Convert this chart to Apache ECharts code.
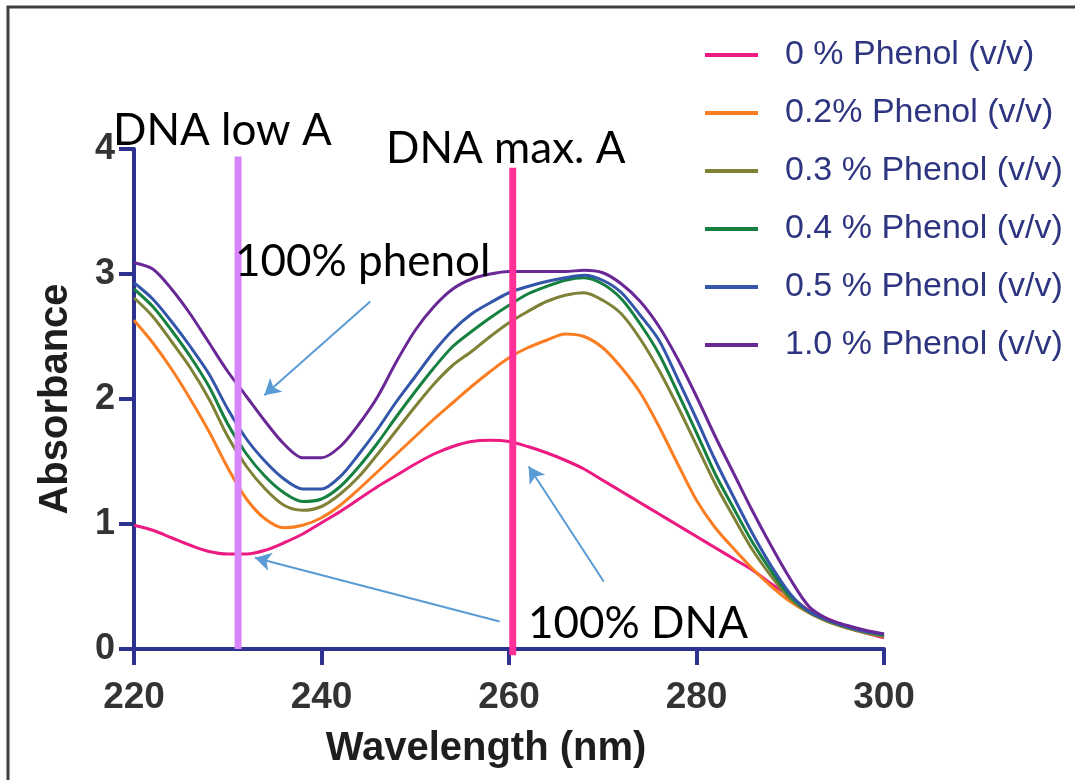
<!DOCTYPE html>
<html>
<head>
<meta charset="utf-8">
<script src="https://cdn.jsdelivr.net/npm/echarts@6/dist/echarts.min.js"></script>
<style>
html, body { margin: 0; padding: 0; background: #fff; }
#main { width: 1075px; height: 780px; }
</style>
</head>
<body>
<div id="main"></div>
<script>
// wavelengths (nm)
var wavelength = [220, 222, 224, 226, 228, 230, 232, 234, 236, 238,
                  240, 242, 244, 246, 248, 250, 252, 254, 256, 258,
                  260, 262, 264, 266, 268, 270, 272, 274, 276, 278,
                  280, 282, 284, 286, 288, 290, 292, 294, 296, 298, 300];

// absorbance per phenol concentration
var phenol0 = [0.99, 0.95, 0.89, 0.83, 0.78, 0.76, 0.76, 0.79, 0.85, 0.92,
               1.01, 1.10, 1.20, 1.30, 1.39, 1.48, 1.56, 1.62, 1.66, 1.67,
               1.66, 1.62, 1.57, 1.51, 1.44, 1.35, 1.26, 1.17, 1.08, 0.99,
               0.90, 0.81, 0.72, 0.63, 0.52, 0.42, 0.31, 0.24, 0.18, 0.13, 0.09];
var phenol02 = [2.63, 2.45, 2.24, 2.00, 1.74, 1.45, 1.20, 1.04, 0.97, 0.99,
                1.05, 1.15, 1.28, 1.42, 1.56, 1.70, 1.84, 1.97, 2.10, 2.22,
                2.33, 2.41, 2.47, 2.52, 2.50, 2.41, 2.25, 2.05, 1.78, 1.48,
                1.19, 0.97, 0.80, 0.64, 0.50, 0.38, 0.29, 0.22, 0.17, 0.13, 0.10];
var phenol03 = [2.81, 2.66, 2.46, 2.25, 2.00, 1.70, 1.46, 1.28, 1.15, 1.11,
                1.14, 1.24, 1.38, 1.56, 1.75, 1.94, 2.12, 2.27, 2.38, 2.50,
                2.61, 2.70, 2.78, 2.83, 2.85, 2.79, 2.68, 2.48, 2.23, 1.94,
                1.63, 1.32, 1.05, 0.79, 0.58, 0.40, 0.29, 0.22, 0.17, 0.13, 0.10];
var phenol04 = [2.88, 2.74, 2.55, 2.34, 2.10, 1.80, 1.56, 1.38, 1.25, 1.18,
                1.20, 1.30, 1.46, 1.65, 1.86, 2.06, 2.25, 2.42, 2.54, 2.65,
                2.75, 2.84, 2.90, 2.95, 2.97, 2.92, 2.80, 2.60, 2.36, 2.05,
                1.73, 1.40, 1.12, 0.85, 0.62, 0.42, 0.30, 0.23, 0.18, 0.14, 0.11];
var phenol05 = [2.93, 2.80, 2.62, 2.42, 2.20, 1.92, 1.68, 1.50, 1.36, 1.28,
                1.28, 1.38, 1.56, 1.76, 1.98, 2.18, 2.38, 2.55, 2.68, 2.77,
                2.85, 2.90, 2.94, 2.97, 2.99, 2.95, 2.85, 2.67, 2.47, 2.16,
                1.84, 1.51, 1.21, 0.92, 0.66, 0.44, 0.30, 0.23, 0.18, 0.14, 0.12];
var phenol10 = [3.09, 3.04, 2.88, 2.68, 2.45, 2.22, 2.02, 1.82, 1.64, 1.53,
                1.53, 1.62, 1.80, 2.02, 2.30, 2.55, 2.74, 2.88, 2.96, 3.00,
                3.02, 3.02, 3.02, 3.02, 3.03, 3.01, 2.92, 2.78, 2.58, 2.32,
                2.02, 1.70, 1.40, 1.10, 0.82, 0.56, 0.34, 0.24, 0.19, 0.15, 0.12];

var seriesNames = ['0 % Phenol (v/v)', '0.2% Phenol (v/v)', '0.3 % Phenol (v/v)',
                   '0.4 % Phenol (v/v)', '0.5 % Phenol (v/v)', '1.0 % Phenol (v/v)'];
var seriesData = [phenol0, phenol02, phenol03, phenol04, phenol05, phenol10];
var seriesColors = ['#ec1a82', '#fb7d22', '#7f8236', '#168040', '#3355aa', '#6a2896'];

var xTicks = [220, 240, 260, 280, 300];
var yTicks = [0, 1, 2, 3, 4];

// reference wavelengths drawn as vertical bars: [nm, bottom, top]
var lowA = [231.1, 0, 3.94];
var maxA = [260.4, -0.05, 3.85];

// annotation arrows: [from nm, from A, to nm, to A]
var arrows = [
    [245.2, 2.78, 233.9, 2.03],
    [259.0, 0.22, 232.9, 0.73],
    [270.1, 0.54, 262.1, 1.46]
];

function pairs(xs, ys) {
    var out = [];
    for (var i = 0; i < xs.length; i++) {
	out.push([xs[i], ys[i]]);
    }
    return out;
}

var series = [];
for (var i = 0; i < seriesNames.length; i++) {
    series.push({
	name : seriesNames[i],
	type : 'line',
	smooth : 0.3,
	symbol : 'none',
	lineStyle : { width : 3, color : seriesColors[i] },
	itemStyle : { color : seriesColors[i] },
	z : 2 + i,
	data : pairs(wavelength, seriesData[i])
    });
}

// 100% phenol / 100% DNA arrows
series.push({
    type : 'line',
    data : [],
    z : 20,
    markLine : {
	silent : true,
	symbol : [ 'none', 'arrow' ],
	symbolSize : [ 14, 16 ],
	label : { show : false },
	lineStyle : { color : '#5b9bd5', width : 2, type : 'solid' },
	data : arrows.map(function(a) {
	    return [ { coord : [ a[0], a[1] ] }, { coord : [ a[2], a[3] ] } ];
	})
    }
});

series.push({
    type : 'line',
    symbol : 'none',
    clip : false,
    z : 15,
    lineStyle : { width : 7, color : '#d884fb' },
    data : [ [ lowA[0], lowA[1] ], [ lowA[0], lowA[2] ] ]
});
series.push({
    type : 'line',
    symbol : 'none',
    clip : false,
    z : 15,
    lineStyle : { width : 7, color : '#ff3097' },
    data : [ [ maxA[0], maxA[1] ], [ maxA[0], maxA[2] ] ]
});

var axisColor = '#2d3190';
var labelFont = 'Lato, "Open Sans", sans-serif';

var myChart = echarts.init(document.getElementById('main'));
myChart.setOption({
    animation : false,
    backgroundColor : '#ffffff',
    grid : {
	left : 134,
	right : 191,
	top : 149,
	bottom : 131
    },
    legend : {
	orient : 'vertical',
	left : 700,
	top : 33,
	icon : 'rect',
	itemWidth : 53,
	itemHeight : 4,
	itemGap : 24,
	data : seriesNames,
	textStyle : {
	    fontFamily : '"Liberation Sans", Arial, sans-serif',
	    fontSize : 34,
	    lineHeight : 34,
	    color : '#2e3580',
	    padding : [ 0, 0, 0, 22 ]
	}
    },
    xAxis : {
	type : 'value',
	min : 220,
	max : 300,
	interval : 20,
	name : 'Wavelength (nm)',
	nameLocation : 'middle',
	nameGap : 80,
	nameTextStyle : {
	    fontFamily : '"Liberation Sans", Arial, sans-serif',
	    fontWeight : 'bold',
	    fontSize : 40,
	    color : '#1e1e1e',
	    padding : [ 0, 46, 0, 0 ]
	},
	splitLine : { show : false },
	axisLine : { lineStyle : { color : axisColor, width : 4 } },
	axisTick : { inside : false, length : 16, lineStyle : { color : axisColor, width : 4 } },
	axisLabel : {
	    margin : 30,
	    fontFamily : '"Liberation Sans", Arial, sans-serif',
	    fontWeight : 'bold',
	    fontSize : 37,
	    color : '#333333',
	    customValues : xTicks
	}
    },
    yAxis : {
	type : 'value',
	min : 0,
	max : 4,
	interval : 1,
	name : 'Absorbance',
	nameLocation : 'middle',
	nameGap : 58,
	nameTextStyle : {
	    fontFamily : '"Liberation Sans", Arial, sans-serif',
	    fontWeight : 'bold',
	    fontSize : 40,
	    color : '#1e1e1e'
	},
	splitLine : { show : false },
	axisLine : { show : true, lineStyle : { color : axisColor, width : 4 } },
	axisTick : { show : true, inside : false, length : 15, lineStyle : { color : axisColor, width : 4 } },
	axisLabel : {
	    margin : 19,
	    fontFamily : '"Liberation Sans", Arial, sans-serif',
	    fontWeight : 'bold',
	    fontSize : 36,
	    color : '#333333'
	}
    },
    graphic : [ {
	type : 'rect',
	shape : { x : 8, y : 7, width : 1100, height : 800 },
	style : { fill : 'none', stroke : '#3f3f3f', lineWidth : 3 },
	silent : true
    }, {
	type : 'text',
	x : 113, y : 131, z : 30,
	style : { text : 'DNA low A', font : '44px ' + labelFont, fill : '#000', verticalAlign : 'middle' }
    }, {
	type : 'text',
	x : 386, y : 149, z : 30,
	style : { text : 'DNA max. A', font : '44px ' + labelFont, fill : '#000', verticalAlign : 'middle' }
    }, {
	type : 'text',
	x : 235, y : 262, z : 30,
	style : { text : '100% phenol', font : '44px ' + labelFont, fill : '#000', verticalAlign : 'middle' }
    }, {
	type : 'text',
	x : 528, y : 624, z : 30,
	style : { text : '100% DNA', font : '44px ' + labelFont, fill : '#000', verticalAlign : 'middle' }
    } ],
    series : series
});
</script>
</body>
</html>
